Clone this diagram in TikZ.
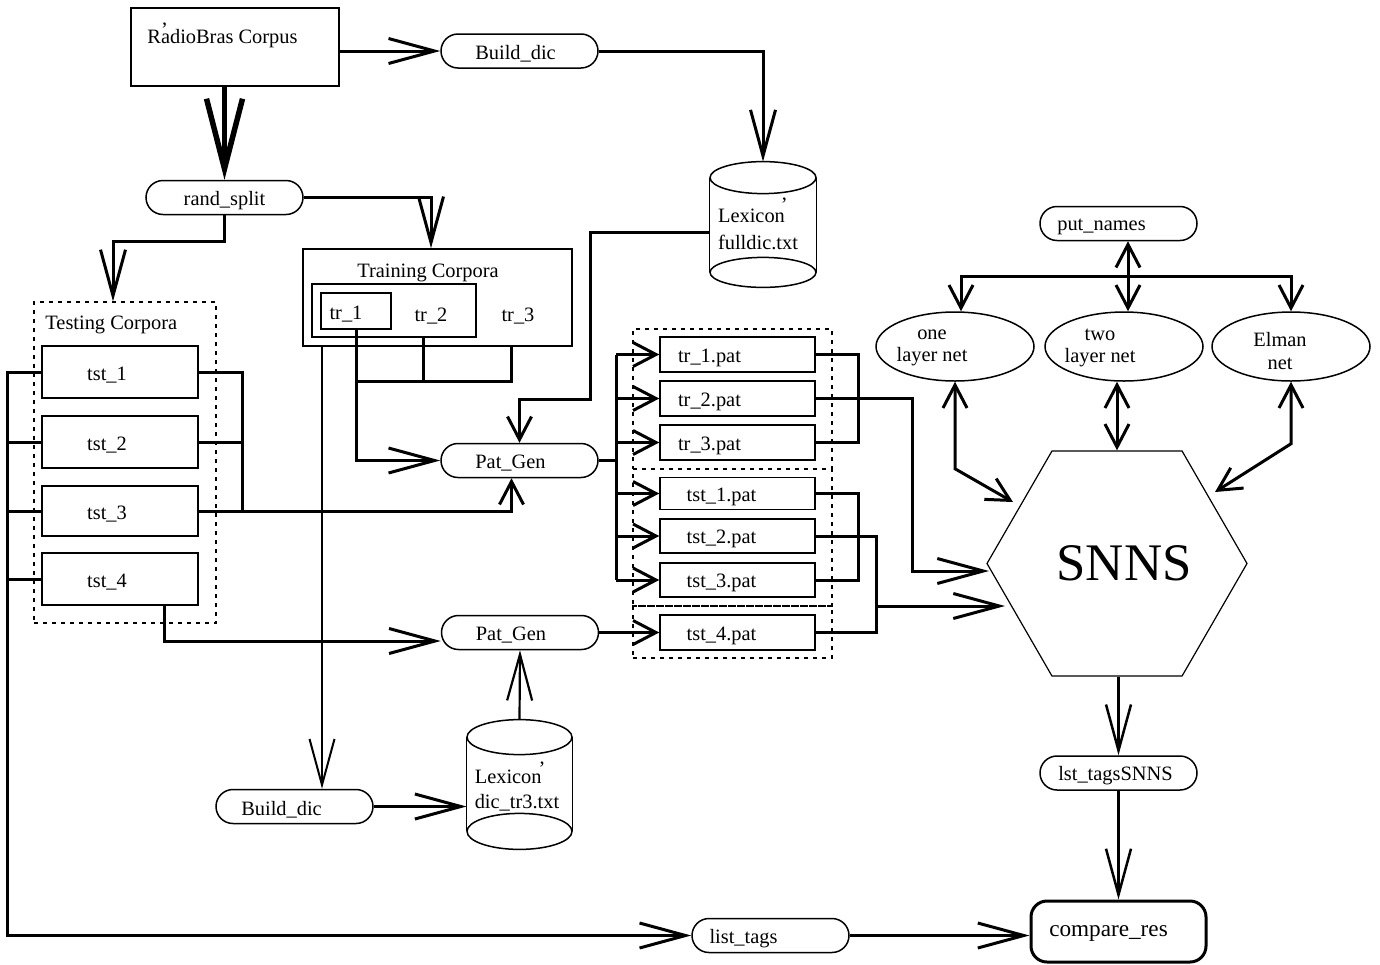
\documentclass[tikz,border=0pt]{standalone}
\usepackage{fontspec}
\setmainfont{Liberation Serif}
\usetikzlibrary{arrows.meta,shapes.misc,shapes.geometric,calc}
\tikzset{
  BigBarb/.tip={Straight Barb[length=23pt,width=12.5pt]},
  SmBarb/.tip={Straight Barb[length=11.5pt,width=12pt]},
  conn/.style={line width=1.5pt},
  box/.style={draw, line width=0.75pt, inner sep=0pt},
  pill/.style={draw, rounded rectangle, line width=0.75pt, minimum width=78.5pt, minimum height=17pt, inner sep=0pt},
  dbox/.style={draw, dash pattern=on 2pt off 2.5pt, line width=0.6pt, inner sep=0pt},
  ell/.style={draw, ellipse, line width=0.75pt, minimum width=79pt, minimum height=34.5pt, inner sep=0pt},
  txt/.style={inner sep=0pt},
  cyl/.style={line width=0.75pt},
  every label/.append style={yshift=-1.5pt}
}
\begin{document}
\begin{tikzpicture}[x=0.5pt,y=-0.5pt,font=\fontsize{10.2pt}{12pt}\selectfont]
\useasboundingbox (0,0) rectangle (1380,964);

% ---- top ----
\node[box, minimum width=104pt, minimum height=39pt] (corpus) at (235,47) {};
\node[txt, anchor=base west] (corpustxt) at (147,43) {R\smash{\rlap{\raisebox{0.3em}{’}}}adioBras Corpus};
\node[pill, label={[xshift=-2pt]center:Build\_dic}] (bdic1) at (519.5,51) {};
\node[pill, label={center:rand\_split}] (rsplit) at (224.5,197.5) {};

% ---- lexicon 1 ----
\node[txt, minimum width=53pt, minimum height=62.5pt,
      label={[align=left, xshift=-2.5pt, yshift=-1pt, font=\fontsize{10.2pt}{13.5pt}\selectfont]center:{Lexicon\smash{\rlap{\kern-2pt\raisebox{0.55em}{’}}}\\fulldic.txt}}] (lex1) at (763,224.5) {};
\draw[cyl] ([yshift=-8pt]lex1.north) ellipse [x radius=26.5pt, y radius=8pt];
\draw[cyl] ([yshift=7.5pt]lex1.south) ellipse [x radius=26.5pt, y radius=7.5pt];
\draw[cyl] ([yshift=-8pt]lex1.north west) -- ([yshift=7.5pt]lex1.south west);
\draw[cyl] ([yshift=-8pt]lex1.north east) -- ([yshift=7.5pt]lex1.south east);

% ---- testing corpora ----
\node[dbox, minimum width=91pt, minimum height=160.5pt] (testing) at (125,462.5) {};
\node[txt, anchor=west] (testlbl) at (45,325) {Testing Corpora};
\node[box, minimum width=78pt, minimum height=26pt, label={[xshift=-6.5pt]center:tst\_1}] (tst1) at (120,372) {};
\node[box, minimum width=78pt, minimum height=26pt, label={[xshift=-6.5pt]center:tst\_2}] (tst2) at (120,442) {};
\node[box, minimum width=78pt, minimum height=25pt, label={[xshift=-6.5pt]center:tst\_3}] (tst3) at (120,511) {};
\node[box, minimum width=78pt, minimum height=26pt, label={[xshift=-6.5pt]center:tst\_4}] (tst4) at (120,579) {};

% ---- training corpora ----
\node[box, minimum width=134.5pt, minimum height=48.5pt] (train) at (437.5,297.5) {};
\node[txt] (trainlbl) at (428,273) {Training Corpora};
\node[box, minimum width=82pt, minimum height=26.5pt] (trin) at (394,310.5) {};
\node[box, minimum width=35pt, minimum height=18pt, label={[xshift=-5pt]center:tr\_1}] (tr1) at (356,311) {};
\node[txt] (tr2) at (431,316) {tr\_2};
\node[txt] (tr3) at (518,316) {tr\_3};

% ---- pattern generation ----
\node[pill, label={[xshift=-4.5pt]center:Pat\_Gen}] (pg1) at (519.5,460.5) {};
\node[pill, label={[xshift=-4.5pt]center:Pat\_Gen}] (pg2) at (520,632.5) {};
\node[pill, label={[xshift=-6.5pt]center:Build\_dic}] (bdic2) at (294.5,806.5) {};

% ---- lexicon 2 ----
\node[txt, minimum width=52.5pt, minimum height=64.5pt,
      label={[align=left, xshift=-1.25pt, yshift=-1.5pt, font=\fontsize{10.2pt}{12.5pt}\selectfont]center:{Lexicon\smash{\rlap{\kern-1.5pt\raisebox{0.4em}{’}}}\\dic\_tr3.txt}}] (lex2) at (519.5,784.5) {};
\draw[cyl] ([yshift=-8.75pt]lex2.north) ellipse [x radius=26.25pt, y radius=8.75pt];
\draw[cyl] ([yshift=9pt]lex2.south) ellipse [x radius=26.25pt, y radius=9pt];
\draw[cyl] ([yshift=-8.75pt]lex2.north west) -- ([yshift=9pt]lex2.south west);
\draw[cyl] ([yshift=-8.75pt]lex2.north east) -- ([yshift=9pt]lex2.south east);

% ---- pattern files ----
\node[dbox, minimum width=99.5pt, minimum height=70pt] (pd1) at (732.5,399) {};
\node[dbox, minimum width=99.5pt, minimum height=68.5pt] (pd2) at (732.5,537.5) {};
\node[dbox, minimum width=99.5pt, minimum height=26pt] (pd3) at (732.5,632) {};
\node[box, minimum width=77.5pt, minimum height=17.5pt, label={[xshift=-14pt]center:tr\_1.pat}] (p1) at (737.5,354.5) {};
\node[box, minimum width=77.5pt, minimum height=17.5pt, label={[xshift=-14pt]center:tr\_2.pat}] (p2) at (737.5,398.5) {};
\node[box, minimum width=77.5pt, minimum height=17.5pt, label={[xshift=-14pt]center:tr\_3.pat}] (p3) at (737.5,442.5) {};
\node[box, minimum width=77.5pt, minimum height=16pt, label={[xshift=-8pt]center:tst\_1.pat}] (p4) at (737.5,493.5) {};
\node[box, minimum width=77.5pt, minimum height=17pt, label={[xshift=-8pt]center:tst\_2.pat}] (p5) at (737.5,536) {};
\node[box, minimum width=77.5pt, minimum height=17pt, label={[xshift=-8pt]center:tst\_3.pat}] (p6) at (737.5,580) {};
\node[box, minimum width=77.5pt, minimum height=17.5pt, label={[xshift=-8pt]center:tst\_4.pat}] (p7) at (737.5,632.5) {};

% ---- networks ----
\node[pill, label={[xshift=-8.5pt]center:put\_names}] (putn) at (1118.5,223.5) {};
\node[ell, label={[align=center, xshift=-11.5pt, yshift=1pt, font=\fontsize{10.2pt}{11pt}\selectfont]center:{one\\layer net}}] (one) at (955,346.5) {};
\node[ell, label={[align=center, xshift=-12pt, yshift=1pt, font=\fontsize{10.2pt}{11pt}\selectfont]center:{two\\layer net}}] (two) at (1124,346.5) {};
\node[ell, label={[align=center, xshift=-5.5pt, yshift=-1pt, font=\fontsize{10.2pt}{11.5pt}\selectfont]center:{Elman\\net}}] (elman) at (1291,346.5) {};
\node[draw, regular polygon, regular polygon sides=6, minimum size=130pt, inner sep=0pt, line width=0.6pt,
      label={[xshift=3.5pt, yshift=1.5pt, font=\fontsize{26.4pt}{30pt}\selectfont]center:SNNS}] (snns) at (1117,563.5) {};
\node[pill, label={[xshift=-1.5pt]center:lst\_tagsSNNS}] (lsts) at (1118.5,773) {};
\node[pill, label={[xshift=-13.5pt]center:list\_tags}] (listt) at (770.5,935.5) {};
\node[draw, line width=1.5pt, rounded corners=8pt, minimum width=87.5pt, minimum height=30.5pt, inner sep=0pt,
      label={[xshift=-5pt, yshift=0.5pt, font=\fontsize{11.6pt}{14pt}\selectfont]center:compare\_res}] (cmp) at (1118.5,931.5) {};

% ================= connectors =================
\draw[conn,-BigBarb] (corpus.east |- bdic1.west) -- (bdic1.west);
\draw[conn,-BigBarb] (bdic1.east) -| (lex1.north);
\draw[line width=2.75pt,-{Straight Barb[length=35pt,width=18pt]}] (rsplit.north |- corpus.south) -- (rsplit.north);
\draw[conn,-BigBarb] (rsplit.east) -| ([xshift=-3.25pt]train.north);
\draw[conn,-BigBarb] (rsplit.south) -- ++(0,26) -| ([xshift=-6pt]testing.north);

% testing buses
\draw[conn,-BigBarb] (tst1.west) -- ++(-34,0) |- (listt.west);
\draw[conn] (tst2.west) -- ++(-34,0);
\draw[conn] (tst3.west) -- ++(-34,0);
\draw[conn] (tst4.west) -- ++(-34,0);
\draw[conn] (tst1.east) -- ++(44,0) |- (tst3.east);
\draw[conn] (tst2.east) -- ++(44,0);
\draw[conn,-SmBarb] (tst3.east) -| ([xshift=-4pt]pg1.south);
\draw[conn,-BigBarb] (tst4.south -| 164,0) |- ([yshift=-4.25pt]pg2.west);

% training buses
\draw[conn,-BigBarb] (tr1.south) |- (pg1.west);
\draw[conn] (tr1.south |- 0,381) -| (train.south -| 511,0);
\draw[conn] (trin.south -| 423,0) -- ++(0,44);
\draw[line width=1pt,-BigBarb] (train.south -| 322,0) -- (bdic2.north -| 322,0);

% lexicons
\draw[conn,-SmBarb] (lex1.west |- 0,232) -| (590,399) -| (pg1.north);
\draw[line width=1.1pt,-BigBarb] (lex2.north) -- (pg2.south);
\draw[conn,-BigBarb] (bdic2.east) -- (lex2.west |- bdic2.east);

% pattern bus
\draw[conn] (pg1.east) -- (pg1.east -| 616,0);
\draw[conn] (p1.west -| 616,0) -- (p6.west -| 616,0);
\foreach \n in {p1,p2,p3,p4,p5,p6} \draw[conn,-SmBarb] (\n.west -| 616,0) -- (\n.west);
\draw[conn,-SmBarb] (pg2.east) -- (p7.west);

% to SNNS
\draw[conn] (p1.east) -- ++(43,0) |- (p3.east);
\draw[conn,-BigBarb] (p2.east) -| (912,571) -- ($(snns.center)+(-128,7.5)$);
\draw[conn] (p4.east) -- ++(43,0) |- (p6.east);
\draw[conn] (p5.east) -- ++(61,0) |- (p7.east);
\draw[conn,-BigBarb] ($(p5.east)+(61,70)$) -- ($(snns.center)+(-112,42.5)$);

% networks
\coordinate (pbus) at (1128,276);
\draw[conn,SmBarb-SmBarb] (putn.south -| 1128,0) -- (two.north -| 1128,0);
\draw[conn,-SmBarb] (pbus) -| ([xshift=3pt]one.north);
\draw[conn,-SmBarb] (pbus) -| (elman.north);
\draw[conn,SmBarb-SmBarb] (one.south) -- ++(0,87) -- ($(snns.center)+(-104,-61.5)$);
\draw[conn,SmBarb-SmBarb] (two.south -| snns.north) -- (snns.north);
\draw[conn,SmBarb-SmBarb] (elman.south) -- ++(0,62) -- ($(snns.center)+(98,-71.5)$);

% results
\draw[line width=1.25pt,-BigBarb] (lsts.north |- snns.south) -- (lsts.north);
\draw[line width=1.25pt,-BigBarb] (lsts.south) -- (cmp.north);
\draw[conn,-BigBarb] (listt.east) -- (cmp.west |- listt.east);
\end{tikzpicture}
\end{document}
